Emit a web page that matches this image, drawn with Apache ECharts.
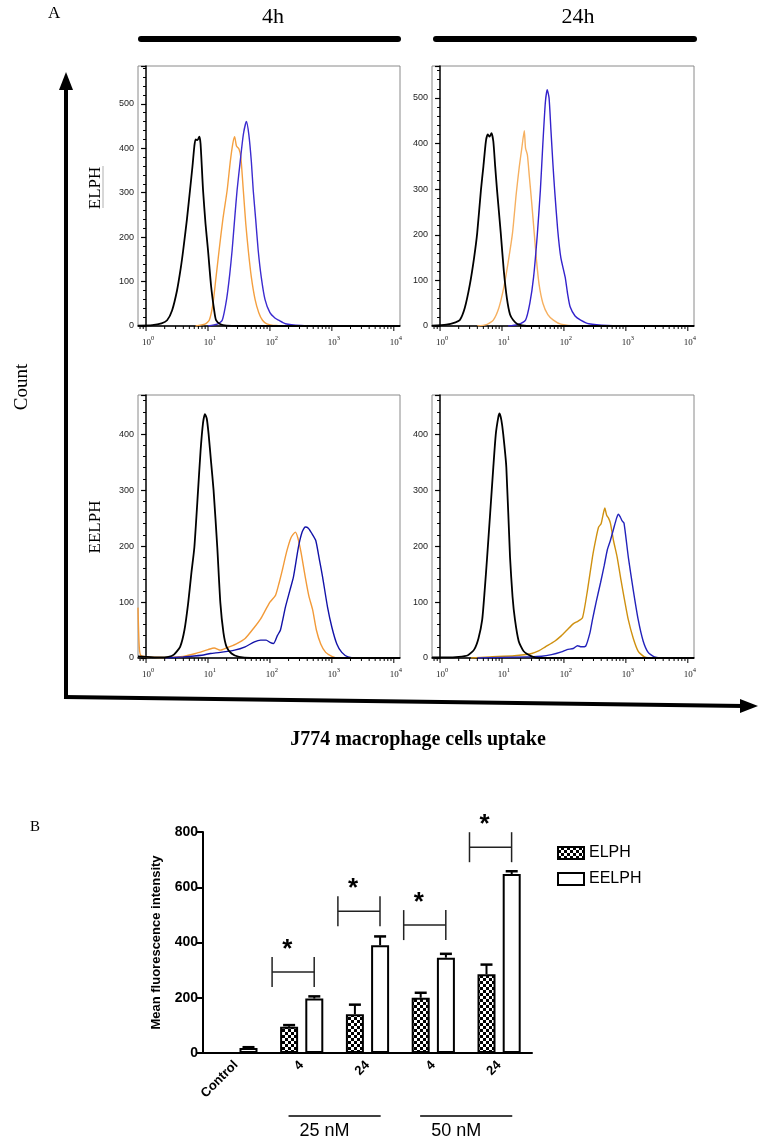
<!DOCTYPE html>
<html><head><meta charset="utf-8">
<script src="https://cdn.jsdelivr.net/npm/echarts@6/dist/echarts.min.js"></script>
<style>html,body{margin:0;padding:0;background:#fff}#c{width:765px;height:1142px}</style>
</head><body><div id="c"></div>
<script>
// ---------- Panel A: flow cytometry histograms (x = log10 fluorescence, y = count) ----------
const decadeTicks = [0, 1, 2, 3, 4];
const minorMultipliers = [2, 3, 4, 5, 6, 7, 8, 9];

// 4h ELPH
const h4ElphBlack = [[-0.13,1],[0.1,2],[0.25,6],[0.34,13],[0.42,35],[0.5,80],[0.56,130],[0.6,171],[0.66,240],[0.71,306],[0.75,360],[0.78,405],[0.8,420],[0.83,418],[0.86,426],[0.88,410],[0.92,306],[0.96,230],[1.0,171],[1.05,90],[1.1,35],[1.13,13],[1.2,4],[1.3,1],[1.5,0],[4.1,0]];
const h4ElphOrange = [[0.8,0],[0.95,4],[1.02,13],[1.08,50],[1.13,110],[1.18,171],[1.24,240],[1.31,306],[1.36,370],[1.4,410],[1.43,426],[1.46,405],[1.5,398],[1.53,380],[1.57,306],[1.61,230],[1.65,171],[1.7,110],[1.76,60],[1.82,30],[1.88,13],[1.95,5],[2.1,1],[2.3,0],[4.1,0]];
const h4ElphBlue = [[1.0,0],[1.15,4],[1.23,13],[1.3,60],[1.35,115],[1.39,171],[1.43,240],[1.47,306],[1.52,370],[1.57,430],[1.62,460],[1.66,430],[1.7,370],[1.73,306],[1.77,240],[1.81,171],[1.86,110],[1.92,60],[2.0,30],[2.08,18],[2.14,13],[2.25,5],[2.5,1],[2.8,0],[4.1,0]];
// 24h ELPH
const h24ElphBlack = [[-0.13,1],[0.1,3],[0.25,8],[0.32,13],[0.4,40],[0.48,90],[0.55,150],[0.6,204],[0.66,298],[0.7,350],[0.74,405],[0.77,420],[0.8,415],[0.83,423],[0.86,405],[0.89,350],[0.92,298],[0.98,204],[1.03,120],[1.08,60],[1.13,25],[1.18,13],[1.25,4],[1.4,0],[4.1,0]];
const h24ElphOrange = [[0.6,0],[0.75,3],[0.86,13],[0.95,40],[1.03,85],[1.1,140],[1.17,204],[1.23,290],[1.28,350],[1.32,390],[1.36,428],[1.38,390],[1.41,375],[1.44,330],[1.48,270],[1.52,204],[1.56,140],[1.6,90],[1.66,50],[1.74,25],[1.83,13],[1.95,4],[2.2,0],[4.1,0]];
const h24ElphBlue = [[1.1,0],[1.25,3],[1.38,13],[1.45,50],[1.51,107],[1.57,200],[1.62,298],[1.66,400],[1.7,490],[1.73,518],[1.76,500],[1.79,430],[1.82,360],[1.85,298],[1.9,210],[1.95,150],[2.02,107],[2.06,70],[2.1,42],[2.18,22],[2.27,13],[2.4,5],[2.7,1],[3.2,0],[4.1,0]];
// 4h EELPH
const h4EelphBlack = [[-0.13,3],[0.0,2],[0.2,1],[0.36,2],[0.45,6],[0.55,20],[0.62,50],[0.68,98],[0.73,150],[0.78,198],[0.84,300],[0.88,370],[0.92,420],[0.95,436],[0.98,428],[1.01,400],[1.05,350],[1.09,300],[1.15,198],[1.2,98],[1.25,45],[1.3,20],[1.38,8],[1.5,2],[1.7,0],[4.1,0]];
const h4EelphOrange = [[-0.13,90],[-0.11,20],[-0.08,4],[0.3,1],[0.6,3],[0.8,8],[1.0,15],[1.1,18],[1.2,14],[1.3,18],[1.45,25],[1.6,35],[1.75,55],[1.85,70],[1.93,86],[2.0,100],[2.09,112],[2.15,135],[2.2,157],[2.27,190],[2.34,215],[2.41,225],[2.45,215],[2.5,190],[2.57,145],[2.63,110],[2.69,86],[2.75,50],[2.82,25],[2.9,10],[3.0,3],[3.1,0],[4.1,0]];
const h4EelphBlue = [[0.3,0],[0.6,2],[0.9,5],[1.04,8],[1.2,10],[1.43,14],[1.6,20],[1.75,29],[1.85,32],[1.94,32],[2.0,28],[2.06,26],[2.12,40],[2.17,50],[2.21,70],[2.25,91],[2.32,120],[2.38,145],[2.46,198],[2.52,225],[2.57,234],[2.62,232],[2.68,222],[2.74,210],[2.8,175],[2.85,145],[2.93,91],[3.0,55],[3.08,25],[3.16,10],[3.26,2],[3.4,0],[4.1,0]];
// 24h EELPH
const h24EelphBlack = [[-0.13,1],[0.1,1],[0.3,2],[0.45,5],[0.55,15],[0.62,35],[0.68,68],[0.72,120],[0.76,180],[0.81,260],[0.86,341],[0.9,400],[0.94,430],[0.96,437],[0.99,425],[1.02,400],[1.07,341],[1.13,180],[1.17,110],[1.21,68],[1.27,30],[1.35,12],[1.48,3],[1.6,0],[4.1,0]];
const h24EelphOrange = [[0.5,0],[0.8,2],[1.2,4],[1.48,8],[1.6,13],[1.7,20],[1.85,30],[1.96,40],[2.05,50],[2.15,61],[2.23,66],[2.3,72],[2.38,121],[2.46,180],[2.52,215],[2.56,234],[2.6,240],[2.63,255],[2.66,268],[2.69,255],[2.72,250],[2.75,241],[2.8,210],[2.86,180],[2.92,140],[2.97,109],[3.04,68],[3.12,35],[3.2,12],[3.3,2],[3.45,0],[4.1,0]];
const h24EelphBlue = [[0.6,0],[1.0,1],[1.4,2],[1.64,3],[1.8,6],[1.96,11],[2.05,15],[2.15,17],[2.22,22],[2.28,20],[2.35,21],[2.42,45],[2.46,68],[2.52,100],[2.59,134],[2.65,165],[2.7,193],[2.75,210],[2.8,230],[2.85,250],[2.88,257],[2.91,252],[2.94,245],[2.97,241],[3.04,180],[3.12,121],[3.2,68],[3.28,30],[3.36,10],[3.46,2],[3.6,0],[4.1,0]];

// ---------- Panel B: bar chart ----------
const barCategories = ['Control', '4', '24', '4', '24'];
const elphValues = [0, 95, 140, 200, 285];
const elphErrors = [0, 6, 35, 18, 35];
const eelphValues = [18, 197, 390, 345, 648];
const eelphErrors = [3, 8, 32, 14, 10];
const bracketLevels = [[1, 293], [2, 513], [3, 463], [4, 745]];
const groupLabels = [['25 nM', 1, 2], ['50 nM', 3, 4]];

const SERIF = 'Liberation Serif';
const SANS = 'Liberation Sans';

// checker pattern for ELPH bars
const pat = document.createElement('canvas');
pat.width = 6; pat.height = 6;
const pc = pat.getContext('2d');
pc.fillStyle = '#000'; pc.fillRect(0, 0, 6, 6);
pc.fillStyle = '#fff'; pc.fillRect(0, 0, 3, 3); pc.fillRect(3, 3, 3, 3);

const chart = echarts.init(document.getElementById('c'), null, {renderer: 'canvas'});

const histGrids = [
  {left: 138, top: 66, width: 262, height: 260},
  {left: 432, top: 66, width: 262, height: 260},
  {left: 138, top: 395, width: 262, height: 263},
  {left: 432, top: 395, width: 262, height: 263}
];
const histMax = [585, 570, 470, 470];

function histX(gi) {
  return {gridIndex: gi, type: 'value', min: -0.13, max: 4.1,
    axisLine: {show: true, onZero: false, lineStyle: {color: '#000', width: 1.5}},
    axisTick: {show: false}, axisLabel: {show: false}, splitLine: {show: false}};
}
function histY(gi, max) {
  return {gridIndex: gi, type: 'value', min: 0, max: max, interval: 100,
    axisLine: {show: true, lineStyle: {color: '#000', width: 1.5}},
    axisTick: {show: true, length: 5, lineStyle: {color: '#000', width: 1.2}},
    minorTick: {show: true, splitNumber: 5, length: 3, lineStyle: {color: '#000', width: 1}},
    splitLine: {show: false},
    axisLabel: {fontSize: 9, color: '#222', margin: 4, fontFamily: SANS,
      formatter: v => (v % 100 === 0 ? String(v) : '')}};
}
function curve(gi, data, color, w) {
  return {type: 'line', xAxisIndex: gi, yAxisIndex: gi, data: data, symbol: 'none', showSymbol: false,
    smooth: 0.2, lineStyle: {color: color, width: w}, silent: true, z: 3};
}
const tickData = [];
decadeTicks.forEach(d => tickData.push([d, 1]));
[-1, 0, 1, 2, 3].forEach(d => minorMultipliers.forEach(m => {
  const v = d + Math.log10(m);
  if (v >= -0.13 && v <= 4.1) tickData.push([v, 0]);
}));
function tickSeries(gi) {
  return {type: 'custom', xAxisIndex: gi, yAxisIndex: gi, data: tickData, silent: true, clip: false, z: 4,
    encode: {x: 0, y: 1},
    renderItem: (params, api) => {
      const x = api.value(0), major = api.value(1);
      const p = api.coord([x, 0]);
      const len = major ? 5 : 3;
      const ch = [{type: 'line', shape: {x1: p[0], y1: p[1], x2: p[0], y2: p[1] + len},
        style: {stroke: '#000', lineWidth: 1}}];
      if (major) {
        ch.push({type: 'text', x: p[0] + 2, y: p[1] + 9,
          style: {text: '{b|10}{s|' + Math.round(x) + '}', align: 'center', verticalAlign: 'top',
            rich: {b: {fontSize: 9, fontFamily: SERIF, fill: '#222', lineHeight: 12, verticalAlign: 'bottom'},
                   s: {fontSize: 6.5, fontFamily: SERIF, fill: '#222', lineHeight: 12, verticalAlign: 'top'}}}});
      }
      return {type: 'group', children: ch};
    }};
}

const histSets = [
  [h4ElphBlack, h4ElphOrange, h4ElphBlue, '#f4a040', '#3b2bd0'],
  [h24ElphBlack, h24ElphOrange, h24ElphBlue, '#f6b060', '#3322cc'],
  [h4EelphBlack, h4EelphOrange, h4EelphBlue, '#f29a38', '#1212a8'],
  [h24EelphBlack, h24EelphOrange, h24EelphBlue, '#cf900f', '#2222bb']
];

const series = [];
histSets.forEach((s, gi) => {
  series.push(curve(gi, s[1], s[3], 1.4));
  series.push(curve(gi, s[2], s[4], 1.4));
  series.push(curve(gi, s[0], '#000', 1.8));
  series.push(tickSeries(gi));
});

// bar chart series
const BW = 18, GAP = 0.4;
const half = (2 * BW + GAP * BW) / 2;
const offsets = [-half + BW / 2, half - BW / 2];
series.push({name: 'ELPH', type: 'bar', xAxisIndex: 4, yAxisIndex: 4, data: elphValues, barWidth: BW, barGap: '40%',
  itemStyle: {color: {image: pat, repeat: 'repeat'}, borderColor: '#000', borderWidth: 2}, z: 3});
series.push({name: 'EELPH', type: 'bar', xAxisIndex: 4, yAxisIndex: 4, data: eelphValues, barWidth: BW,
  itemStyle: {color: '#fff', borderColor: '#000', borderWidth: 2}, z: 3});
const errData = [];
elphValues.forEach((v, i) => { if (elphErrors[i] > 0) errData.push([i, v, elphErrors[i], 0]); });
eelphValues.forEach((v, i) => { if (eelphErrors[i] > 0) errData.push([i, v, eelphErrors[i], 1]); });
series.push({type: 'custom', xAxisIndex: 4, yAxisIndex: 4, data: errData, z: 5, silent: true, encode: {x: 0, y: 1},
  renderItem: (params, api) => {
    const c = api.value(0), v = api.value(1), e = api.value(2), side = api.value(3);
    const b = api.coord([c, v]), t = api.coord([c, v + e]);
    const x = b[0] + offsets[side];
    return {type: 'group', children: [
      {type: 'line', shape: {x1: x, y1: b[1], x2: x, y2: t[1]}, style: {stroke: '#000', lineWidth: 2}},
      {type: 'line', shape: {x1: x - 6, y1: t[1], x2: x + 6, y2: t[1]}, style: {stroke: '#000', lineWidth: 2.5}}
    ]};
  }});
series.push({type: 'custom', xAxisIndex: 4, yAxisIndex: 4, data: bracketLevels, z: 5, silent: true, clip: false, encode: {x: 0, y: 1},
  renderItem: (params, api) => {
    const c = api.value(0), v = api.value(1);
    const p = api.coord([c, v]);
    const band = api.size([1, 0])[0];
    const x1 = p[0] - 0.45 * band, x2 = p[0] + 0.19 * band;
    const st = {stroke: '#222', lineWidth: 1.5};
    return {type: 'group', children: [
      {type: 'line', shape: {x1: x1, y1: p[1], x2: x2, y2: p[1]}, style: st},
      {type: 'line', shape: {x1: x1, y1: p[1] - 15, x2: x1, y2: p[1] + 15}, style: st},
      {type: 'line', shape: {x1: x2, y1: p[1] - 15, x2: x2, y2: p[1] + 15}, style: st},
      {type: 'text', x: x1 + 0.23 * band, y: p[1] - 22,
        style: {text: '*', font: 'bold 26px ' + SANS, fill: '#000', align: 'center', verticalAlign: 'middle'}}
    ]};
  }});

const xAxes = [0, 1, 2, 3].map(histX);
const yAxes = [0, 1, 2, 3].map(i => histY(i, histMax[i]));
xAxes.push({gridIndex: 4, type: 'category', data: barCategories,
  axisLine: {lineStyle: {color: '#000', width: 2}},
  axisTick: {alignWithLabel: true, length: 6, lineStyle: {color: '#000', width: 2}},
  axisLabel: {rotate: 45, fontSize: 13, fontWeight: 'bold', fontFamily: SANS, color: '#000', margin: 10}});
yAxes.push({gridIndex: 4, type: 'value', min: 0, max: 800, interval: 200,
  name: 'Mean fluorescence intensity', nameLocation: 'middle', nameRotate: 90, nameGap: 40,
  nameTextStyle: {fontSize: 13, fontWeight: 'bold', fontFamily: SANS, color: '#000'},
  axisLine: {show: true, lineStyle: {color: '#000', width: 2}},
  axisTick: {show: true, length: 6, lineStyle: {color: '#000', width: 2}},
  splitLine: {show: false},
  axisLabel: {fontSize: 14, fontWeight: 'bold', fontFamily: SANS, color: '#000', margin: 5}});

const grids = histGrids.map(g => Object.assign({show: true, borderColor: '#8a8a8a', borderWidth: 1, backgroundColor: 'transparent'}, g));
grids.push({left: 203, top: 832, width: 329, height: 221});

const graphics = [
  {type: 'text', left: 48, top: 5, style: {text: 'A', font: '17px ' + SERIF, fill: '#000'}},
  {type: 'text', x: 273, y: 17, style: {text: '4h', font: '22px ' + SERIF, fill: '#000', align: 'center', verticalAlign: 'middle'}},
  {type: 'text', x: 578, y: 17, style: {text: '24h', font: '22px ' + SERIF, fill: '#000', align: 'center', verticalAlign: 'middle'}},
  {type: 'rect', shape: {x: 138, y: 36, width: 263, height: 6, r: 3}, style: {fill: '#000'}},
  {type: 'rect', shape: {x: 433, y: 36, width: 264, height: 6, r: 3}, style: {fill: '#000'}},
  {type: 'line', shape: {x1: 66, y1: 698, x2: 66, y2: 86}, style: {stroke: '#000', lineWidth: 4}},
  {type: 'polygon', shape: {points: [[59, 90], [73, 90], [66, 72]]}, style: {fill: '#000'}},
  {type: 'line', shape: {x1: 64, y1: 697, x2: 744, y2: 706}, style: {stroke: '#000', lineWidth: 4}},
  {type: 'polygon', shape: {points: [[740, 699], [740, 713], [758, 706]]}, style: {fill: '#000'}},
  {type: 'text', x: 22, y: 387, rotation: Math.PI / 2, style: {text: 'Count', font: '19px ' + SERIF, fill: '#000', align: 'center', verticalAlign: 'middle'}},
  {type: 'text', x: 96, y: 188, rotation: Math.PI / 2, style: {text: 'ELPH', font: '17px ' + SERIF, fill: '#000', align: 'center', verticalAlign: 'middle'}},
  {type: 'line', shape: {x1: 103, y1: 166, x2: 103, y2: 208}, style: {stroke: '#b0b0b0', lineWidth: 1}},
  {type: 'text', x: 96, y: 527, rotation: Math.PI / 2, style: {text: 'EELPH', font: '17px ' + SERIF, fill: '#000', align: 'center', verticalAlign: 'middle'}},
  {type: 'text', x: 418, y: 740, style: {text: 'J774 macrophage cells uptake', font: 'bold 20px ' + SERIF, fill: '#000', align: 'center', verticalAlign: 'middle'}},
  {type: 'text', left: 30, top: 820, style: {text: 'B', font: '15px ' + SERIF, fill: '#000'}}
];

chart.setOption({
  animation: false,
  backgroundColor: '#fff',
  grid: grids,
  xAxis: xAxes,
  yAxis: yAxes,
  legend: {data: ['ELPH', 'EELPH'], orient: 'vertical', left: 552, top: 840, itemWidth: 26, itemHeight: 12, itemGap: 10,
    icon: 'rect', textStyle: {fontSize: 16, fontFamily: SANS, color: '#000'}, selectedMode: false},
  series: series,
  graphic: graphics
});

const extra = [];
groupLabels.forEach(([txt, a, b]) => {
  const pa = chart.convertToPixel({xAxisIndex: 4, yAxisIndex: 4}, [a, 0]);
  const pb = chart.convertToPixel({xAxisIndex: 4, yAxisIndex: 4}, [b, 0]);
  const band = pb[0] - pa[0];
  const x1 = pa[0] - 0.2 * band, x2 = pb[0] + 0.2 * band;
  extra.push({type: 'line', shape: {x1: x1, y1: 1116, x2: x2, y2: 1116}, style: {stroke: '#000', lineWidth: 1.5}});
  extra.push({type: 'text', x: (x1 + x2) / 2 - 10, y: 1131, style: {text: txt, font: '18px ' + SANS, fill: '#000', align: 'center', verticalAlign: 'middle'}});
});
chart.setOption({graphic: graphics.concat(extra)});
</script></body></html>
